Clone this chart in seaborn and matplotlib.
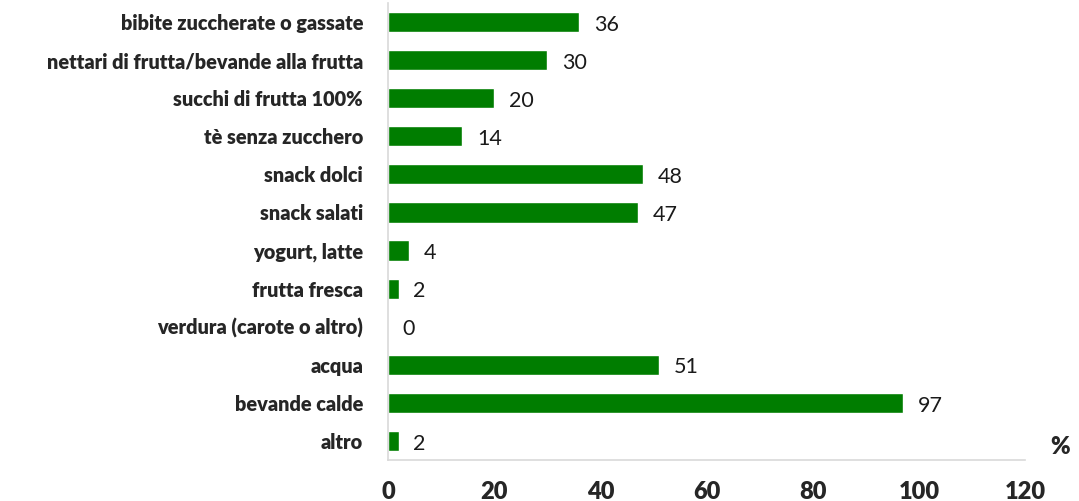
import matplotlib
matplotlib.use("Agg")
import matplotlib.pyplot as plt
import seaborn as sns
import pandas as pd

# data
categories = [
    "bibite zuccherate o gassate",
    "nettari di frutta/bevande alla frutta",
    "succhi di frutta 100%",
    "tè senza zucchero",
    "snack dolci",
    "snack salati",
    "yogurt, latte",
    "frutta fresca",
    "verdura (carote o altro)",
    "acqua",
    "bevande calde",
    "altro",
]
values = [36, 30, 20, 14, 48, 47, 4, 2, 0, 51, 97, 2]
x_ticks = [0, 20, 40, 60, 80, 100, 120]

df = pd.DataFrame({"cat": categories, "val": values})

sns.set_style("white")
plt.rcParams["font.family"] = ["Lato", "DejaVu Sans"]

fig = plt.figure(figsize=(10.79, 5.01), dpi=100)
ax = fig.add_axes([0.3596, 0.0818, 0.5904, 0.9122])

sns.barplot(data=df, y="cat", x="val", orient="h", color="#007d00",
            saturation=1, width=0.53, ax=ax)

# value labels to the right of each bar
for i, v in enumerate(values):
    ax.text(v + 2.8, i + 0.07, str(v), va="center", ha="left",
            fontsize=15.5, color="#1a1a1a")

ax.set_xlim(0, 120)
ax.set_xticks(x_ticks)
ax.set_xticklabels([str(t) for t in x_ticks], fontsize=17, fontweight="heavy")
ax.set_yticks(range(len(categories)))
ax.set_yticklabels(categories, fontsize=14.3, fontweight="heavy")
ax.set_xlabel("")
ax.set_ylabel("")

for s in ["top", "right"]:
    ax.spines[s].set_visible(False)
for s in ["left", "bottom"]:
    ax.spines[s].set_color("#d9d9d9")
    ax.spines[s].set_linewidth(1.2)
ax.tick_params(axis="x", length=6, color="#d9d9d9", width=1.2, pad=9)
ax.tick_params(axis="y", length=0, pad=18)

fig.text(0.982, 0.107, "%", fontsize=17, fontweight="heavy", ha="center", va="center")

fig.savefig("out.png", dpi=100)
